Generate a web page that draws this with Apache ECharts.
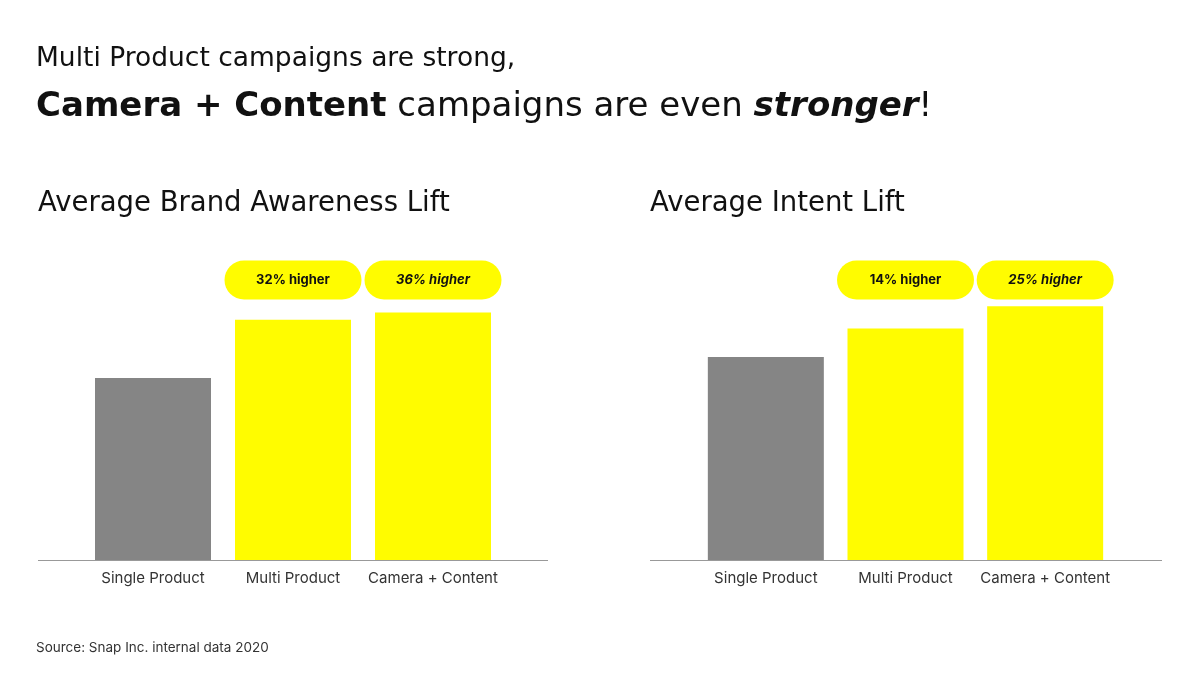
<!DOCTYPE html>
<html>
<head>
<meta charset="utf-8">
<script src="https://cdn.jsdelivr.net/npm/echarts@6/dist/echarts.min.js"></script>
<style>
  html, body { margin: 0; padding: 0; background: #fff; }
  #chart { width: 1200px; height: 675px; }
</style>
</head>
<body>
<div id="chart"></div>
<script>
const categories = ['Single Product', 'Multi Product', 'Camera + Content'];
const awarenessValues = [100, 132, 136];
const intentValues = [100, 114, 125];
const awarenessPills = ['32% higher', '36% higher'];
const intentPills = ['14% higher', '25% higher'];

const FONT = 'Inter, "Noto Sans", sans-serif';
const HEAD = '"DejaVu Sans", sans-serif';
const GREY = '#858585';
const YELLOW = '#FFFC00';

function barData(values) {
    return values.map((v, i) => ({ value: v, itemStyle: { color: i === 0 ? GREY : YELLOW } }));
}

function pills(labels, y) {
    return labels.map((txt, i) => ({
        coord: [i + 1, y],
        value: txt,
        label: { fontStyle: i === 1 ? 'italic' : 'normal' }
    }));
}

function barSeries(idx, values, labels, pillY) {
    return {
        type: 'bar',
        xAxisIndex: idx,
        yAxisIndex: idx,
        barWidth: 116,
        data: barData(values),
        silent: true,
        markPoint: {
            symbol: 'circle',
            symbolSize: 1,
            itemStyle: { color: 'rgba(0,0,0,0)' },
            label: {
                show: true,
                position: 'inside',
                formatter: p => p.value,
                color: '#111',
                fontFamily: FONT,
                fontWeight: 'bold',
                fontSize: 13,
                backgroundColor: YELLOW,
                borderRadius: 20,
                width: 137,
                height: 39,
                lineHeight: 39,
                align: 'center',
                verticalAlign: 'middle'
            },
            data: pills(labels, pillY)
        }
    };
}

function xAxis(idx) {
    return {
        type: 'category',
        gridIndex: idx,
        data: categories,
        axisLine: { show: false },
        axisTick: { show: false },
        axisLabel: { interval: 0, color: '#333', fontFamily: FONT, fontSize: 15, margin: 11 }
    };
}

function yAxis(idx, max) {
    return { type: 'value', gridIndex: idx, min: 0, max: max, show: false, splitLine: { show: false } };
}

const chart = echarts.init(document.getElementById('chart'));

chart.setOption({
    backgroundColor: '#fff',
    animation: false,
    title: [
        {
            text: 'Multi Product campaigns are strong,',
            left: 31, top: 41,
            textStyle: { fontFamily: HEAD, fontSize: 26.5, fontWeight: 'normal', color: '#111' }
        },
        {
            text: '{b|Camera + Content} campaigns are even {bi|stronger}!',
            left: 31, top: 85,
            textStyle: {
                fontFamily: HEAD, fontSize: 34, fontWeight: 'normal', color: '#111',
                rich: {
                    b: { fontFamily: HEAD, fontSize: 34, fontWeight: 'bold', color: '#111' },
                    bi: { fontFamily: HEAD, fontSize: 34, fontWeight: 'bold', fontStyle: 'italic', color: '#111' }
                }
            }
        },
        {
            text: 'Average Brand Awareness Lift',
            left: 33, top: 185,
            textStyle: { fontFamily: HEAD, fontSize: 27.5, fontWeight: 'normal', color: '#111' }
        },
        {
            text: 'Average Intent Lift',
            left: 645, top: 185,
            textStyle: { fontFamily: HEAD, fontSize: 27.5, fontWeight: 'normal', color: '#111' }
        },
        {
            text: 'Source: Snap Inc. internal data 2020',
            left: 31, top: 636,
            textStyle: { fontFamily: FONT, fontSize: 13.5, fontWeight: 'normal', color: '#333' }
        }
    ],
    grid: [
        { left: 83, width: 420, top: 240, height: 320 },
        { left: 696, width: 419, top: 240, height: 320 }
    ],
    xAxis: [xAxis(0), xAxis(1)],
    yAxis: [yAxis(0, 175.8), yAxis(1, 157.6)],
    series: [
        barSeries(0, awarenessValues, awarenessPills, 153.8),
        barSeries(1, intentValues, intentPills, 137.9)
    ],
    graphic: [
        { type: 'line', shape: { x1: 38, y1: 560.5, x2: 548, y2: 560.5 }, style: { stroke: '#999', lineWidth: 1 } },
        { type: 'line', shape: { x1: 650, y1: 560.5, x2: 1162, y2: 560.5 }, style: { stroke: '#999', lineWidth: 1 } }
    ]
});
</script>
</body>
</html>
